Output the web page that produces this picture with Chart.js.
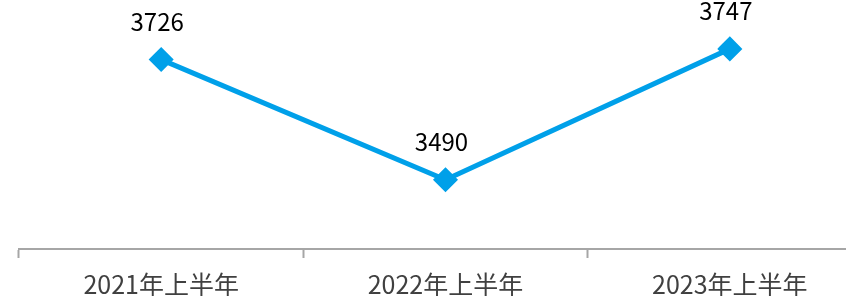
<!DOCTYPE html>
<html lang="zh">
  <head>
    <meta charset="UTF-8" />
    <title>上半年数据</title>
    <script src="https://cdn.jsdelivr.net/npm/chart.js"></script>
    <style>
      body {
        margin: 0;
        background: #fff;
        overflow: hidden;
      }
      .wrap {
        width: 872px;
        height: 296px;
      }
    </style>
  </head>
  <body>
    <div class="wrap">
      <canvas id="lineChart"></canvas>
    </div>

    <script>
      const periods = ["2021年上半年", "2022年上半年", "2023年上半年"];
      const counts = [3726, 3490, 3747];

      // value labels above each point
      const pointLabels = {
        id: "pointLabels",
        afterDatasetsDraw(chart) {
          const ctx = chart.ctx;
          const meta = chart.getDatasetMeta(0);
          ctx.save();
          ctx.font = '24px "Noto Sans CJK SC", "Open Sans", sans-serif';
          ctx.fillStyle = "#000";
          ctx.textAlign = "center";
          ctx.textBaseline = "middle";
          meta.data.forEach((pt, i) => {
            ctx.fillText(String(counts[i]), pt.x - 4, pt.y - 38);
          });
          ctx.restore();
        },
      };

      new Chart(document.getElementById("lineChart"), {
        type: "line",
        data: {
          labels: periods,
          datasets: [
            {
              data: counts,
              borderColor: "#00A0E9",
              backgroundColor: "#00A0E9",
              borderWidth: 5,
              pointStyle: "rectRot",
              pointRadius: 9,
              pointHoverRadius: 9,
              tension: 0,
            },
          ],
        },
        options: {
          responsive: true,
          maintainAspectRatio: false,
          animation: false,
          layout: {
            autoPadding: false,
            padding: { left: 19, right: 0, top: 0, bottom: 0 },
          },
          plugins: {
            legend: { display: false },
            tooltip: { enabled: false },
          },
          scales: {
            y: {
              display: false,
              min: 3354,
              max: 3843,
            },
            x: {
              offset: true,
              afterFit: (scale) => {
                scale.height = 47;
              },
              border: { color: "#A6A6A6", width: 2 },
              grid: {
                offset: true,
                drawOnChartArea: false,
                tickLength: 9,
                tickColor: "#A6A6A6",
                tickWidth: 2,
              },
              ticks: {
                color: "#404040",
                padding: 11,
                font: {
                  size: 25,
                  family: '"Noto Sans CJK SC", "Open Sans", sans-serif',
                },
              },
            },
          },
        },
        plugins: [pointLabels],
      });
    </script>
  </body>
</html>
